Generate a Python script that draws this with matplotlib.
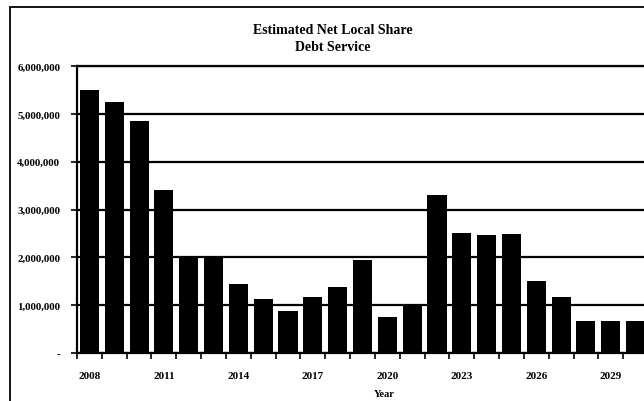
import matplotlib
matplotlib.use("Agg")
import matplotlib.pyplot as plt
from matplotlib.patches import Rectangle
from matplotlib.ticker import FuncFormatter, FixedLocator
import numpy as np

years = list(range(2008, 2031))
values = [5500000, 5250000, 4850000, 3400000, 2000000, 2000000, 1450000, 1120000,
          870000, 1180000, 1370000, 1950000, 750000, 1000000, 3300000, 2500000,
          2470000, 2480000, 1500000, 1170000, 670000, 670000, 670000]
title = "Estimated Net Local Share\nDebt Service"
xlabel = "Year"
label_years = [2008, 2011, 2014, 2017, 2020, 2023, 2026, 2029]

plt.rcParams['font.family'] = ['Liberation Serif', 'DejaVu Serif']

fig = plt.figure(figsize=(6.44, 4.02), dpi=100)
fig.patch.set_facecolor('white')
# outer chart border
fig.patches.append(Rectangle((10/644, -0.05), 1.2, 1 - 8/402 + 0.05, transform=fig.transFigure,
                             fill=False, edgecolor='black', linewidth=1.3))

ax = fig.add_axes([77/644, 1 - 354/402, (648 - 77)/644, (354 - 67)/402])
x = np.arange(len(years))
ax.bar(x, values, width=0.77, color='black', zorder=3)
ax.set_xlim(-0.5, len(years) - 0.5)
ax.set_ylim(0, 6000000)
ax.set_yticks(np.arange(0, 6000001, 1000000))
ax.yaxis.set_major_formatter(FuncFormatter(lambda v, p: '-' if v == 0 else f"{int(v):,}"))
ax.grid(axis='y', color='black', linewidth=1.6, zorder=1)

ax.set_xticks([years.index(y) for y in label_years])
ax.set_xticklabels([str(y) for y in label_years])
ax.xaxis.set_minor_locator(FixedLocator(np.arange(-0.5, len(years), 1.0)))
ax.tick_params(axis='x', which='major', length=0, pad=13, labelsize=8)
ax.tick_params(axis='x', which='minor', length=4, width=1.2, direction='out')
ax.tick_params(axis='y', length=4, width=1.2, labelsize=7.8, pad=8)
for lab in ax.get_xticklabels() + ax.get_yticklabels():
    lab.set_fontweight('bold')

for s in ['top', 'left', 'bottom']:
    ax.spines[s].set_linewidth(1.6)
    ax.spines[s].set_color('black')
ax.spines['right'].set_visible(False)

fig.text(333/644, 1 - 39/402, title, ha='center', va='center',
         fontsize=10, fontweight='bold', linespacing=1.35)
ax.set_xlabel(xlabel, fontsize=7.5, fontweight='bold', labelpad=2)
ax.xaxis.set_label_coords((384 - 77) / (648 - 77), -0.125)

fig.savefig("out.png", dpi=100, facecolor='white')
